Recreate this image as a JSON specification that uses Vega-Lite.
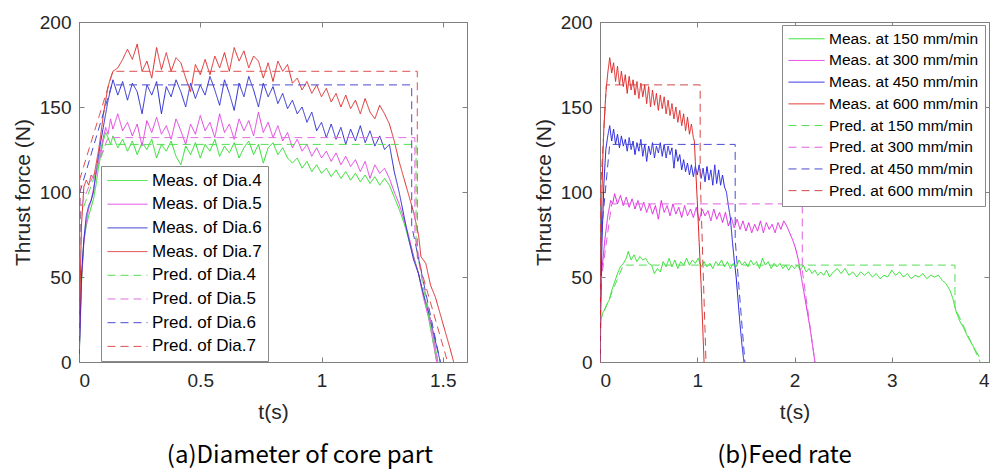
{
"$schema": "https://vega.github.io/schema/vega-lite/v6.json",
"padding": {"left": 11, "top": 12, "right": 1, "bottom": 0},
"spacing": 64,
"config": {
 "view": {"stroke": "#808080", "strokeWidth": 1},
 "axis": {"labelFont": "Liberation Sans", "titleFont": "Liberation Sans", "labelFontSize": 19, "titleFontSize": 21, "labelColor": "#262626", "titleColor": "#262626", "titleFontWeight": "normal", "grid": false, "domainColor": "#808080", "tickColor": "#808080", "tickSize": -5, "minExtent": 0},
 "line": {"strokeWidth": 1, "clip": true}
},
"resolve": {"scale": {"color": "independent", "strokeDash": "independent", "x": "independent", "y": "independent"}, "legend": {"color": "independent", "strokeDash": "independent"}},
"datasets": {
"a": [
{"s":"Meas. of Dia.4","t":0,"f":0},{"s":"Meas. of Dia.4","t":0.005,"f":20},{"s":"Meas. of Dia.4","t":0.01,"f":45},{"s":"Meas. of Dia.4","t":0.02,"f":72},{"s":"Meas. of Dia.4","t":0.03,"f":80},{"s":"Meas. of Dia.4","t":0.04,"f":86},{"s":"Meas. of Dia.4","t":0.05,"f":91},{"s":"Meas. of Dia.4","t":0.06,"f":96},{"s":"Meas. of Dia.4","t":0.07,"f":104},{"s":"Meas. of Dia.4","t":0.08,"f":114},{"s":"Meas. of Dia.4","t":0.09,"f":122},{"s":"Meas. of Dia.4","t":0.1,"f":130},{"s":"Meas. of Dia.4","t":0.11,"f":135},{"s":"Meas. of Dia.4","t":0.12,"f":132},{"s":"Meas. of Dia.4","t":0.13,"f":128},{"s":"Meas. of Dia.4","t":0.14,"f":133},{"s":"Meas. of Dia.4","t":0.16,"f":126},{"s":"Meas. of Dia.4","t":0.18,"f":131},{"s":"Meas. of Dia.4","t":0.2,"f":124},{"s":"Meas. of Dia.4","t":0.22,"f":130},{"s":"Meas. of Dia.4","t":0.24,"f":122},{"s":"Meas. of Dia.4","t":0.26,"f":129},{"s":"Meas. of Dia.4","t":0.28,"f":125},{"s":"Meas. of Dia.4","t":0.3,"f":131},{"s":"Meas. of Dia.4","t":0.32,"f":120},{"s":"Meas. of Dia.4","t":0.34,"f":128},{"s":"Meas. of Dia.4","t":0.36,"f":124},{"s":"Meas. of Dia.4","t":0.38,"f":130},{"s":"Meas. of Dia.4","t":0.4,"f":121},{"s":"Meas. of Dia.4","t":0.42,"f":116},{"s":"Meas. of Dia.4","t":0.44,"f":127},{"s":"Meas. of Dia.4","t":0.46,"f":122},{"s":"Meas. of Dia.4","t":0.48,"f":129},{"s":"Meas. of Dia.4","t":0.5,"f":120},{"s":"Meas. of Dia.4","t":0.52,"f":128},{"s":"Meas. of Dia.4","t":0.54,"f":124},{"s":"Meas. of Dia.4","t":0.56,"f":131},{"s":"Meas. of Dia.4","t":0.58,"f":121},{"s":"Meas. of Dia.4","t":0.6,"f":127},{"s":"Meas. of Dia.4","t":0.62,"f":123},{"s":"Meas. of Dia.4","t":0.64,"f":129},{"s":"Meas. of Dia.4","t":0.66,"f":120},{"s":"Meas. of Dia.4","t":0.68,"f":126},{"s":"Meas. of Dia.4","t":0.7,"f":130},{"s":"Meas. of Dia.4","t":0.72,"f":122},{"s":"Meas. of Dia.4","t":0.74,"f":128},{"s":"Meas. of Dia.4","t":0.76,"f":117},{"s":"Meas. of Dia.4","t":0.78,"f":126},{"s":"Meas. of Dia.4","t":0.8,"f":129},{"s":"Meas. of Dia.4","t":0.82,"f":122},{"s":"Meas. of Dia.4","t":0.84,"f":126},{"s":"Meas. of Dia.4","t":0.86,"f":120},{"s":"Meas. of Dia.4","t":0.88,"f":117},{"s":"Meas. of Dia.4","t":0.9,"f":120},{"s":"Meas. of Dia.4","t":0.92,"f":114},{"s":"Meas. of Dia.4","t":0.94,"f":118},{"s":"Meas. of Dia.4","t":0.96,"f":112},{"s":"Meas. of Dia.4","t":0.98,"f":116},{"s":"Meas. of Dia.4","t":1.0,"f":111},{"s":"Meas. of Dia.4","t":1.02,"f":114},{"s":"Meas. of Dia.4","t":1.04,"f":109},{"s":"Meas. of Dia.4","t":1.06,"f":113},{"s":"Meas. of Dia.4","t":1.08,"f":108},{"s":"Meas. of Dia.4","t":1.1,"f":112},{"s":"Meas. of Dia.4","t":1.12,"f":107},{"s":"Meas. of Dia.4","t":1.14,"f":111},{"s":"Meas. of Dia.4","t":1.16,"f":106},{"s":"Meas. of Dia.4","t":1.18,"f":110},{"s":"Meas. of Dia.4","t":1.2,"f":105},{"s":"Meas. of Dia.4","t":1.22,"f":109},{"s":"Meas. of Dia.4","t":1.24,"f":104},{"s":"Meas. of Dia.4","t":1.26,"f":108},{"s":"Meas. of Dia.4","t":1.28,"f":104},{"s":"Meas. of Dia.4","t":1.3,"f":97},{"s":"Meas. of Dia.4","t":1.32,"f":90},{"s":"Meas. of Dia.4","t":1.34,"f":82},{"s":"Meas. of Dia.4","t":1.36,"f":72},{"s":"Meas. of Dia.4","t":1.38,"f":62},{"s":"Meas. of Dia.4","t":1.4,"f":52},{"s":"Meas. of Dia.4","t":1.42,"f":40},{"s":"Meas. of Dia.4","t":1.44,"f":30},{"s":"Meas. of Dia.4","t":1.46,"f":16},{"s":"Meas. of Dia.4","t":1.48,"f":0},
{"s":"Meas. of Dia.5","t":0,"f":0},{"s":"Meas. of Dia.5","t":0.005,"f":22},{"s":"Meas. of Dia.5","t":0.01,"f":48},{"s":"Meas. of Dia.5","t":0.02,"f":70},{"s":"Meas. of Dia.5","t":0.03,"f":82},{"s":"Meas. of Dia.5","t":0.04,"f":90},{"s":"Meas. of Dia.5","t":0.05,"f":95},{"s":"Meas. of Dia.5","t":0.06,"f":102},{"s":"Meas. of Dia.5","t":0.07,"f":110},{"s":"Meas. of Dia.5","t":0.08,"f":118},{"s":"Meas. of Dia.5","t":0.09,"f":125},{"s":"Meas. of Dia.5","t":0.1,"f":132},{"s":"Meas. of Dia.5","t":0.11,"f":138},{"s":"Meas. of Dia.5","t":0.12,"f":134},{"s":"Meas. of Dia.5","t":0.13,"f":143},{"s":"Meas. of Dia.5","t":0.14,"f":137},{"s":"Meas. of Dia.5","t":0.16,"f":146},{"s":"Meas. of Dia.5","t":0.18,"f":136},{"s":"Meas. of Dia.5","t":0.2,"f":141},{"s":"Meas. of Dia.5","t":0.22,"f":133},{"s":"Meas. of Dia.5","t":0.24,"f":140},{"s":"Meas. of Dia.5","t":0.26,"f":127},{"s":"Meas. of Dia.5","t":0.28,"f":142},{"s":"Meas. of Dia.5","t":0.3,"f":135},{"s":"Meas. of Dia.5","t":0.32,"f":144},{"s":"Meas. of Dia.5","t":0.34,"f":134},{"s":"Meas. of Dia.5","t":0.36,"f":139},{"s":"Meas. of Dia.5","t":0.38,"f":131},{"s":"Meas. of Dia.5","t":0.4,"f":143},{"s":"Meas. of Dia.5","t":0.42,"f":136},{"s":"Meas. of Dia.5","t":0.44,"f":128},{"s":"Meas. of Dia.5","t":0.46,"f":140},{"s":"Meas. of Dia.5","t":0.48,"f":134},{"s":"Meas. of Dia.5","t":0.5,"f":145},{"s":"Meas. of Dia.5","t":0.52,"f":136},{"s":"Meas. of Dia.5","t":0.54,"f":141},{"s":"Meas. of Dia.5","t":0.56,"f":132},{"s":"Meas. of Dia.5","t":0.58,"f":146},{"s":"Meas. of Dia.5","t":0.6,"f":135},{"s":"Meas. of Dia.5","t":0.62,"f":140},{"s":"Meas. of Dia.5","t":0.64,"f":131},{"s":"Meas. of Dia.5","t":0.66,"f":143},{"s":"Meas. of Dia.5","t":0.68,"f":136},{"s":"Meas. of Dia.5","t":0.7,"f":142},{"s":"Meas. of Dia.5","t":0.72,"f":133},{"s":"Meas. of Dia.5","t":0.74,"f":147},{"s":"Meas. of Dia.5","t":0.76,"f":135},{"s":"Meas. of Dia.5","t":0.78,"f":141},{"s":"Meas. of Dia.5","t":0.8,"f":132},{"s":"Meas. of Dia.5","t":0.82,"f":139},{"s":"Meas. of Dia.5","t":0.84,"f":130},{"s":"Meas. of Dia.5","t":0.86,"f":135},{"s":"Meas. of Dia.5","t":0.88,"f":126},{"s":"Meas. of Dia.5","t":0.9,"f":131},{"s":"Meas. of Dia.5","t":0.92,"f":124},{"s":"Meas. of Dia.5","t":0.94,"f":128},{"s":"Meas. of Dia.5","t":0.96,"f":121},{"s":"Meas. of Dia.5","t":0.98,"f":126},{"s":"Meas. of Dia.5","t":1.0,"f":120},{"s":"Meas. of Dia.5","t":1.02,"f":124},{"s":"Meas. of Dia.5","t":1.04,"f":118},{"s":"Meas. of Dia.5","t":1.06,"f":123},{"s":"Meas. of Dia.5","t":1.08,"f":116},{"s":"Meas. of Dia.5","t":1.1,"f":121},{"s":"Meas. of Dia.5","t":1.12,"f":115},{"s":"Meas. of Dia.5","t":1.14,"f":119},{"s":"Meas. of Dia.5","t":1.16,"f":112},{"s":"Meas. of Dia.5","t":1.18,"f":118},{"s":"Meas. of Dia.5","t":1.2,"f":108},{"s":"Meas. of Dia.5","t":1.22,"f":116},{"s":"Meas. of Dia.5","t":1.24,"f":111},{"s":"Meas. of Dia.5","t":1.26,"f":114},{"s":"Meas. of Dia.5","t":1.28,"f":108},{"s":"Meas. of Dia.5","t":1.3,"f":100},{"s":"Meas. of Dia.5","t":1.32,"f":93},{"s":"Meas. of Dia.5","t":1.34,"f":84},{"s":"Meas. of Dia.5","t":1.36,"f":74},{"s":"Meas. of Dia.5","t":1.38,"f":62},{"s":"Meas. of Dia.5","t":1.4,"f":52},{"s":"Meas. of Dia.5","t":1.42,"f":38},{"s":"Meas. of Dia.5","t":1.44,"f":27},{"s":"Meas. of Dia.5","t":1.46,"f":12},{"s":"Meas. of Dia.5","t":1.475,"f":0},
{"s":"Meas. of Dia.6","t":0,"f":0},{"s":"Meas. of Dia.6","t":0.005,"f":25},{"s":"Meas. of Dia.6","t":0.01,"f":50},{"s":"Meas. of Dia.6","t":0.02,"f":72},{"s":"Meas. of Dia.6","t":0.03,"f":86},{"s":"Meas. of Dia.6","t":0.04,"f":92},{"s":"Meas. of Dia.6","t":0.05,"f":95},{"s":"Meas. of Dia.6","t":0.06,"f":100},{"s":"Meas. of Dia.6","t":0.07,"f":112},{"s":"Meas. of Dia.6","t":0.08,"f":121},{"s":"Meas. of Dia.6","t":0.09,"f":130},{"s":"Meas. of Dia.6","t":0.1,"f":138},{"s":"Meas. of Dia.6","t":0.11,"f":146},{"s":"Meas. of Dia.6","t":0.12,"f":154},{"s":"Meas. of Dia.6","t":0.13,"f":160},{"s":"Meas. of Dia.6","t":0.14,"f":166},{"s":"Meas. of Dia.6","t":0.16,"f":157},{"s":"Meas. of Dia.6","t":0.18,"f":165},{"s":"Meas. of Dia.6","t":0.2,"f":154},{"s":"Meas. of Dia.6","t":0.22,"f":164},{"s":"Meas. of Dia.6","t":0.24,"f":159},{"s":"Meas. of Dia.6","t":0.26,"f":146},{"s":"Meas. of Dia.6","t":0.28,"f":163},{"s":"Meas. of Dia.6","t":0.3,"f":157},{"s":"Meas. of Dia.6","t":0.32,"f":165},{"s":"Meas. of Dia.6","t":0.34,"f":146},{"s":"Meas. of Dia.6","t":0.36,"f":162},{"s":"Meas. of Dia.6","t":0.38,"f":156},{"s":"Meas. of Dia.6","t":0.4,"f":166},{"s":"Meas. of Dia.6","t":0.42,"f":159},{"s":"Meas. of Dia.6","t":0.44,"f":150},{"s":"Meas. of Dia.6","t":0.46,"f":164},{"s":"Meas. of Dia.6","t":0.48,"f":155},{"s":"Meas. of Dia.6","t":0.5,"f":163},{"s":"Meas. of Dia.6","t":0.52,"f":157},{"s":"Meas. of Dia.6","t":0.54,"f":168},{"s":"Meas. of Dia.6","t":0.56,"f":160},{"s":"Meas. of Dia.6","t":0.58,"f":151},{"s":"Meas. of Dia.6","t":0.6,"f":166},{"s":"Meas. of Dia.6","t":0.62,"f":158},{"s":"Meas. of Dia.6","t":0.64,"f":148},{"s":"Meas. of Dia.6","t":0.66,"f":164},{"s":"Meas. of Dia.6","t":0.68,"f":156},{"s":"Meas. of Dia.6","t":0.7,"f":168},{"s":"Meas. of Dia.6","t":0.72,"f":160},{"s":"Meas. of Dia.6","t":0.74,"f":150},{"s":"Meas. of Dia.6","t":0.76,"f":164},{"s":"Meas. of Dia.6","t":0.78,"f":156},{"s":"Meas. of Dia.6","t":0.8,"f":162},{"s":"Meas. of Dia.6","t":0.82,"f":152},{"s":"Meas. of Dia.6","t":0.84,"f":158},{"s":"Meas. of Dia.6","t":0.86,"f":149},{"s":"Meas. of Dia.6","t":0.88,"f":154},{"s":"Meas. of Dia.6","t":0.9,"f":146},{"s":"Meas. of Dia.6","t":0.92,"f":150},{"s":"Meas. of Dia.6","t":0.94,"f":141},{"s":"Meas. of Dia.6","t":0.96,"f":147},{"s":"Meas. of Dia.6","t":0.98,"f":136},{"s":"Meas. of Dia.6","t":1.0,"f":141},{"s":"Meas. of Dia.6","t":1.02,"f":132},{"s":"Meas. of Dia.6","t":1.04,"f":140},{"s":"Meas. of Dia.6","t":1.06,"f":131},{"s":"Meas. of Dia.6","t":1.08,"f":138},{"s":"Meas. of Dia.6","t":1.1,"f":128},{"s":"Meas. of Dia.6","t":1.12,"f":137},{"s":"Meas. of Dia.6","t":1.14,"f":130},{"s":"Meas. of Dia.6","t":1.16,"f":139},{"s":"Meas. of Dia.6","t":1.18,"f":129},{"s":"Meas. of Dia.6","t":1.2,"f":136},{"s":"Meas. of Dia.6","t":1.22,"f":127},{"s":"Meas. of Dia.6","t":1.24,"f":133},{"s":"Meas. of Dia.6","t":1.26,"f":125},{"s":"Meas. of Dia.6","t":1.28,"f":128},{"s":"Meas. of Dia.6","t":1.3,"f":112},{"s":"Meas. of Dia.6","t":1.32,"f":100},{"s":"Meas. of Dia.6","t":1.34,"f":86},{"s":"Meas. of Dia.6","t":1.36,"f":72},{"s":"Meas. of Dia.6","t":1.38,"f":60},{"s":"Meas. of Dia.6","t":1.4,"f":52},{"s":"Meas. of Dia.6","t":1.42,"f":40},{"s":"Meas. of Dia.6","t":1.44,"f":30},{"s":"Meas. of Dia.6","t":1.46,"f":18},{"s":"Meas. of Dia.6","t":1.48,"f":6},{"s":"Meas. of Dia.6","t":1.49,"f":0},
{"s":"Meas. of Dia.7","t":0,"f":0},{"s":"Meas. of Dia.7","t":0.005,"f":45},{"s":"Meas. of Dia.7","t":0.01,"f":80},{"s":"Meas. of Dia.7","t":0.02,"f":103},{"s":"Meas. of Dia.7","t":0.03,"f":107},{"s":"Meas. of Dia.7","t":0.04,"f":104},{"s":"Meas. of Dia.7","t":0.05,"f":110},{"s":"Meas. of Dia.7","t":0.06,"f":108},{"s":"Meas. of Dia.7","t":0.07,"f":116},{"s":"Meas. of Dia.7","t":0.08,"f":124},{"s":"Meas. of Dia.7","t":0.09,"f":134},{"s":"Meas. of Dia.7","t":0.1,"f":145},{"s":"Meas. of Dia.7","t":0.11,"f":154},{"s":"Meas. of Dia.7","t":0.12,"f":162},{"s":"Meas. of Dia.7","t":0.13,"f":167},{"s":"Meas. of Dia.7","t":0.14,"f":171},{"s":"Meas. of Dia.7","t":0.16,"f":173},{"s":"Meas. of Dia.7","t":0.18,"f":178},{"s":"Meas. of Dia.7","t":0.2,"f":184},{"s":"Meas. of Dia.7","t":0.22,"f":178},{"s":"Meas. of Dia.7","t":0.24,"f":187},{"s":"Meas. of Dia.7","t":0.26,"f":171},{"s":"Meas. of Dia.7","t":0.28,"f":177},{"s":"Meas. of Dia.7","t":0.3,"f":167},{"s":"Meas. of Dia.7","t":0.32,"f":185},{"s":"Meas. of Dia.7","t":0.34,"f":172},{"s":"Meas. of Dia.7","t":0.36,"f":182},{"s":"Meas. of Dia.7","t":0.38,"f":171},{"s":"Meas. of Dia.7","t":0.4,"f":179},{"s":"Meas. of Dia.7","t":0.42,"f":176},{"s":"Meas. of Dia.7","t":0.44,"f":167},{"s":"Meas. of Dia.7","t":0.46,"f":159},{"s":"Meas. of Dia.7","t":0.48,"f":175},{"s":"Meas. of Dia.7","t":0.5,"f":169},{"s":"Meas. of Dia.7","t":0.52,"f":178},{"s":"Meas. of Dia.7","t":0.54,"f":169},{"s":"Meas. of Dia.7","t":0.56,"f":180},{"s":"Meas. of Dia.7","t":0.58,"f":173},{"s":"Meas. of Dia.7","t":0.6,"f":182},{"s":"Meas. of Dia.7","t":0.62,"f":171},{"s":"Meas. of Dia.7","t":0.64,"f":185},{"s":"Meas. of Dia.7","t":0.66,"f":177},{"s":"Meas. of Dia.7","t":0.68,"f":183},{"s":"Meas. of Dia.7","t":0.7,"f":173},{"s":"Meas. of Dia.7","t":0.72,"f":180},{"s":"Meas. of Dia.7","t":0.74,"f":177},{"s":"Meas. of Dia.7","t":0.76,"f":167},{"s":"Meas. of Dia.7","t":0.78,"f":176},{"s":"Meas. of Dia.7","t":0.8,"f":165},{"s":"Meas. of Dia.7","t":0.82,"f":177},{"s":"Meas. of Dia.7","t":0.84,"f":171},{"s":"Meas. of Dia.7","t":0.86,"f":175},{"s":"Meas. of Dia.7","t":0.88,"f":164},{"s":"Meas. of Dia.7","t":0.9,"f":167},{"s":"Meas. of Dia.7","t":0.92,"f":160},{"s":"Meas. of Dia.7","t":0.94,"f":165},{"s":"Meas. of Dia.7","t":0.96,"f":158},{"s":"Meas. of Dia.7","t":0.98,"f":163},{"s":"Meas. of Dia.7","t":1.0,"f":156},{"s":"Meas. of Dia.7","t":1.02,"f":161},{"s":"Meas. of Dia.7","t":1.04,"f":153},{"s":"Meas. of Dia.7","t":1.06,"f":158},{"s":"Meas. of Dia.7","t":1.08,"f":150},{"s":"Meas. of Dia.7","t":1.1,"f":157},{"s":"Meas. of Dia.7","t":1.12,"f":149},{"s":"Meas. of Dia.7","t":1.14,"f":154},{"s":"Meas. of Dia.7","t":1.16,"f":146},{"s":"Meas. of Dia.7","t":1.18,"f":155},{"s":"Meas. of Dia.7","t":1.2,"f":147},{"s":"Meas. of Dia.7","t":1.22,"f":143},{"s":"Meas. of Dia.7","t":1.24,"f":151},{"s":"Meas. of Dia.7","t":1.26,"f":146},{"s":"Meas. of Dia.7","t":1.28,"f":140},{"s":"Meas. of Dia.7","t":1.3,"f":130},{"s":"Meas. of Dia.7","t":1.32,"f":118},{"s":"Meas. of Dia.7","t":1.34,"f":108},{"s":"Meas. of Dia.7","t":1.36,"f":98},{"s":"Meas. of Dia.7","t":1.38,"f":88},{"s":"Meas. of Dia.7","t":1.4,"f":75},{"s":"Meas. of Dia.7","t":1.41,"f":62},{"s":"Meas. of Dia.7","t":1.43,"f":58},{"s":"Meas. of Dia.7","t":1.45,"f":45},{"s":"Meas. of Dia.7","t":1.47,"f":38},{"s":"Meas. of Dia.7","t":1.49,"f":28},{"s":"Meas. of Dia.7","t":1.51,"f":18},{"s":"Meas. of Dia.7","t":1.53,"f":8},{"s":"Meas. of Dia.7","t":1.545,"f":0},
{"s":"Pred. of Dia.4","t":0,"f":0},{"s":"Pred. of Dia.4","t":0.004,"f":85},{"s":"Pred. of Dia.4","t":0.11,"f":128},{"s":"Pred. of Dia.4","t":1.39,"f":128},{"s":"Pred. of Dia.4","t":1.39,"f":68},{"s":"Pred. of Dia.4","t":1.475,"f":0},
{"s":"Pred. of Dia.5","t":0,"f":0},{"s":"Pred. of Dia.5","t":0.004,"f":90},{"s":"Pred. of Dia.5","t":0.12,"f":132},{"s":"Pred. of Dia.5","t":1.385,"f":132},{"s":"Pred. of Dia.5","t":1.385,"f":75},{"s":"Pred. of Dia.5","t":1.48,"f":0},
{"s":"Pred. of Dia.6","t":0,"f":0},{"s":"Pred. of Dia.6","t":0.004,"f":100},{"s":"Pred. of Dia.6","t":0.135,"f":163},{"s":"Pred. of Dia.6","t":1.372,"f":163},{"s":"Pred. of Dia.6","t":1.372,"f":80},{"s":"Pred. of Dia.6","t":1.49,"f":0},
{"s":"Pred. of Dia.7","t":0,"f":0},{"s":"Pred. of Dia.7","t":0.004,"f":108},{"s":"Pred. of Dia.7","t":0.14,"f":171},{"s":"Pred. of Dia.7","t":1.395,"f":171},{"s":"Pred. of Dia.7","t":1.395,"f":62},{"s":"Pred. of Dia.7","t":1.52,"f":0}
],
"b": [
{"s":"Meas. at 150 mm/min","t":0,"f":0},{"s":"Meas. at 150 mm/min","t":0.01,"f":25},{"s":"Meas. at 150 mm/min","t":0.03,"f":29},{"s":"Meas. at 150 mm/min","t":0.05,"f":31},{"s":"Meas. at 150 mm/min","t":0.08,"f":35},{"s":"Meas. at 150 mm/min","t":0.1,"f":37},{"s":"Meas. at 150 mm/min","t":0.12,"f":42},{"s":"Meas. at 150 mm/min","t":0.15,"f":47},{"s":"Meas. at 150 mm/min","t":0.18,"f":52},{"s":"Meas. at 150 mm/min","t":0.21,"f":56},{"s":"Meas. at 150 mm/min","t":0.24,"f":58},{"s":"Meas. at 150 mm/min","t":0.27,"f":61},{"s":"Meas. at 150 mm/min","t":0.29,"f":65},{"s":"Meas. at 150 mm/min","t":0.32,"f":60},{"s":"Meas. at 150 mm/min","t":0.35,"f":63},{"s":"Meas. at 150 mm/min","t":0.38,"f":59},{"s":"Meas. at 150 mm/min","t":0.41,"f":62},{"s":"Meas. at 150 mm/min","t":0.44,"f":60},{"s":"Meas. at 150 mm/min","t":0.47,"f":61},{"s":"Meas. at 150 mm/min","t":0.5,"f":58},{"s":"Meas. at 150 mm/min","t":0.53,"f":57},{"s":"Meas. at 150 mm/min","t":0.56,"f":52},{"s":"Meas. at 150 mm/min","t":0.59,"f":55},{"s":"Meas. at 150 mm/min","t":0.62,"f":53},{"s":"Meas. at 150 mm/min","t":0.65,"f":59},{"s":"Meas. at 150 mm/min","t":0.68,"f":56},{"s":"Meas. at 150 mm/min","t":0.71,"f":61},{"s":"Meas. at 150 mm/min","t":0.74,"f":56},{"s":"Meas. at 150 mm/min","t":0.77,"f":60},{"s":"Meas. at 150 mm/min","t":0.8,"f":55},{"s":"Meas. at 150 mm/min","t":0.83,"f":59},{"s":"Meas. at 150 mm/min","t":0.86,"f":57},{"s":"Meas. at 150 mm/min","t":0.89,"f":61},{"s":"Meas. at 150 mm/min","t":0.92,"f":57},{"s":"Meas. at 150 mm/min","t":0.95,"f":60},{"s":"Meas. at 150 mm/min","t":0.98,"f":58},{"s":"Meas. at 150 mm/min","t":1.01,"f":61},{"s":"Meas. at 150 mm/min","t":1.04,"f":56},{"s":"Meas. at 150 mm/min","t":1.07,"f":59},{"s":"Meas. at 150 mm/min","t":1.1,"f":56},{"s":"Meas. at 150 mm/min","t":1.13,"f":58},{"s":"Meas. at 150 mm/min","t":1.16,"f":55},{"s":"Meas. at 150 mm/min","t":1.19,"f":59},{"s":"Meas. at 150 mm/min","t":1.22,"f":57},{"s":"Meas. at 150 mm/min","t":1.25,"f":60},{"s":"Meas. at 150 mm/min","t":1.28,"f":56},{"s":"Meas. at 150 mm/min","t":1.31,"f":59},{"s":"Meas. at 150 mm/min","t":1.34,"f":55},{"s":"Meas. at 150 mm/min","t":1.37,"f":58},{"s":"Meas. at 150 mm/min","t":1.4,"f":56},{"s":"Meas. at 150 mm/min","t":1.43,"f":60},{"s":"Meas. at 150 mm/min","t":1.46,"f":57},{"s":"Meas. at 150 mm/min","t":1.49,"f":59},{"s":"Meas. at 150 mm/min","t":1.52,"f":56},{"s":"Meas. at 150 mm/min","t":1.55,"f":60},{"s":"Meas. at 150 mm/min","t":1.58,"f":57},{"s":"Meas. at 150 mm/min","t":1.61,"f":59},{"s":"Meas. at 150 mm/min","t":1.64,"f":55},{"s":"Meas. at 150 mm/min","t":1.67,"f":61},{"s":"Meas. at 150 mm/min","t":1.7,"f":57},{"s":"Meas. at 150 mm/min","t":1.73,"f":59},{"s":"Meas. at 150 mm/min","t":1.76,"f":55},{"s":"Meas. at 150 mm/min","t":1.79,"f":58},{"s":"Meas. at 150 mm/min","t":1.82,"f":56},{"s":"Meas. at 150 mm/min","t":1.85,"f":58},{"s":"Meas. at 150 mm/min","t":1.88,"f":55},{"s":"Meas. at 150 mm/min","t":1.91,"f":57},{"s":"Meas. at 150 mm/min","t":1.94,"f":54},{"s":"Meas. at 150 mm/min","t":1.97,"f":57},{"s":"Meas. at 150 mm/min","t":2.0,"f":55},{"s":"Meas. at 150 mm/min","t":2.03,"f":57},{"s":"Meas. at 150 mm/min","t":2.06,"f":54},{"s":"Meas. at 150 mm/min","t":2.09,"f":57},{"s":"Meas. at 150 mm/min","t":2.12,"f":53},{"s":"Meas. at 150 mm/min","t":2.15,"f":55},{"s":"Meas. at 150 mm/min","t":2.18,"f":52},{"s":"Meas. at 150 mm/min","t":2.21,"f":54},{"s":"Meas. at 150 mm/min","t":2.24,"f":51},{"s":"Meas. at 150 mm/min","t":2.27,"f":53},{"s":"Meas. at 150 mm/min","t":2.3,"f":51},{"s":"Meas. at 150 mm/min","t":2.33,"f":54},{"s":"Meas. at 150 mm/min","t":2.36,"f":50},{"s":"Meas. at 150 mm/min","t":2.4,"f":53},{"s":"Meas. at 150 mm/min","t":2.44,"f":55},{"s":"Meas. at 150 mm/min","t":2.48,"f":52},{"s":"Meas. at 150 mm/min","t":2.52,"f":55},{"s":"Meas. at 150 mm/min","t":2.56,"f":51},{"s":"Meas. at 150 mm/min","t":2.6,"f":53},{"s":"Meas. at 150 mm/min","t":2.64,"f":50},{"s":"Meas. at 150 mm/min","t":2.68,"f":53},{"s":"Meas. at 150 mm/min","t":2.72,"f":51},{"s":"Meas. at 150 mm/min","t":2.76,"f":53},{"s":"Meas. at 150 mm/min","t":2.8,"f":50},{"s":"Meas. at 150 mm/min","t":2.84,"f":52},{"s":"Meas. at 150 mm/min","t":2.88,"f":49},{"s":"Meas. at 150 mm/min","t":2.92,"f":51},{"s":"Meas. at 150 mm/min","t":2.96,"f":50},{"s":"Meas. at 150 mm/min","t":3.0,"f":54},{"s":"Meas. at 150 mm/min","t":3.04,"f":51},{"s":"Meas. at 150 mm/min","t":3.08,"f":53},{"s":"Meas. at 150 mm/min","t":3.12,"f":50},{"s":"Meas. at 150 mm/min","t":3.16,"f":52},{"s":"Meas. at 150 mm/min","t":3.2,"f":49},{"s":"Meas. at 150 mm/min","t":3.24,"f":51},{"s":"Meas. at 150 mm/min","t":3.28,"f":50},{"s":"Meas. at 150 mm/min","t":3.32,"f":52},{"s":"Meas. at 150 mm/min","t":3.36,"f":49},{"s":"Meas. at 150 mm/min","t":3.4,"f":51},{"s":"Meas. at 150 mm/min","t":3.44,"f":50},{"s":"Meas. at 150 mm/min","t":3.48,"f":51},{"s":"Meas. at 150 mm/min","t":3.52,"f":48},{"s":"Meas. at 150 mm/min","t":3.56,"f":46},{"s":"Meas. at 150 mm/min","t":3.6,"f":42},{"s":"Meas. at 150 mm/min","t":3.63,"f":37},{"s":"Meas. at 150 mm/min","t":3.66,"f":30},{"s":"Meas. at 150 mm/min","t":3.7,"f":24},{"s":"Meas. at 150 mm/min","t":3.74,"f":20},{"s":"Meas. at 150 mm/min","t":3.78,"f":15},{"s":"Meas. at 150 mm/min","t":3.82,"f":11},{"s":"Meas. at 150 mm/min","t":3.86,"f":7},{"s":"Meas. at 150 mm/min","t":3.9,"f":3},
{"s":"Meas. at 300 mm/min","t":0,"f":0},{"s":"Meas. at 300 mm/min","t":0.005,"f":30},{"s":"Meas. at 300 mm/min","t":0.01,"f":50},{"s":"Meas. at 300 mm/min","t":0.03,"f":60},{"s":"Meas. at 300 mm/min","t":0.05,"f":72},{"s":"Meas. at 300 mm/min","t":0.08,"f":86},{"s":"Meas. at 300 mm/min","t":0.11,"f":95},{"s":"Meas. at 300 mm/min","t":0.13,"f":93},{"s":"Meas. at 300 mm/min","t":0.15,"f":99},{"s":"Meas. at 300 mm/min","t":0.18,"f":93},{"s":"Meas. at 300 mm/min","t":0.21,"f":98},{"s":"Meas. at 300 mm/min","t":0.24,"f":92},{"s":"Meas. at 300 mm/min","t":0.27,"f":97},{"s":"Meas. at 300 mm/min","t":0.3,"f":91},{"s":"Meas. at 300 mm/min","t":0.33,"f":96},{"s":"Meas. at 300 mm/min","t":0.36,"f":90},{"s":"Meas. at 300 mm/min","t":0.39,"f":95},{"s":"Meas. at 300 mm/min","t":0.42,"f":89},{"s":"Meas. at 300 mm/min","t":0.45,"f":94},{"s":"Meas. at 300 mm/min","t":0.48,"f":88},{"s":"Meas. at 300 mm/min","t":0.51,"f":93},{"s":"Meas. at 300 mm/min","t":0.54,"f":87},{"s":"Meas. at 300 mm/min","t":0.57,"f":92},{"s":"Meas. at 300 mm/min","t":0.6,"f":84},{"s":"Meas. at 300 mm/min","t":0.63,"f":95},{"s":"Meas. at 300 mm/min","t":0.66,"f":88},{"s":"Meas. at 300 mm/min","t":0.69,"f":92},{"s":"Meas. at 300 mm/min","t":0.72,"f":86},{"s":"Meas. at 300 mm/min","t":0.75,"f":93},{"s":"Meas. at 300 mm/min","t":0.78,"f":87},{"s":"Meas. at 300 mm/min","t":0.81,"f":91},{"s":"Meas. at 300 mm/min","t":0.84,"f":85},{"s":"Meas. at 300 mm/min","t":0.87,"f":92},{"s":"Meas. at 300 mm/min","t":0.9,"f":86},{"s":"Meas. at 300 mm/min","t":0.93,"f":90},{"s":"Meas. at 300 mm/min","t":0.96,"f":85},{"s":"Meas. at 300 mm/min","t":0.99,"f":91},{"s":"Meas. at 300 mm/min","t":1.02,"f":83},{"s":"Meas. at 300 mm/min","t":1.05,"f":90},{"s":"Meas. at 300 mm/min","t":1.08,"f":86},{"s":"Meas. at 300 mm/min","t":1.11,"f":89},{"s":"Meas. at 300 mm/min","t":1.14,"f":83},{"s":"Meas. at 300 mm/min","t":1.17,"f":90},{"s":"Meas. at 300 mm/min","t":1.2,"f":84},{"s":"Meas. at 300 mm/min","t":1.23,"f":88},{"s":"Meas. at 300 mm/min","t":1.26,"f":82},{"s":"Meas. at 300 mm/min","t":1.29,"f":88},{"s":"Meas. at 300 mm/min","t":1.32,"f":80},{"s":"Meas. at 300 mm/min","t":1.35,"f":85},{"s":"Meas. at 300 mm/min","t":1.38,"f":79},{"s":"Meas. at 300 mm/min","t":1.41,"f":84},{"s":"Meas. at 300 mm/min","t":1.44,"f":78},{"s":"Meas. at 300 mm/min","t":1.47,"f":83},{"s":"Meas. at 300 mm/min","t":1.5,"f":77},{"s":"Meas. at 300 mm/min","t":1.53,"f":82},{"s":"Meas. at 300 mm/min","t":1.56,"f":76},{"s":"Meas. at 300 mm/min","t":1.59,"f":81},{"s":"Meas. at 300 mm/min","t":1.62,"f":77},{"s":"Meas. at 300 mm/min","t":1.65,"f":83},{"s":"Meas. at 300 mm/min","t":1.68,"f":76},{"s":"Meas. at 300 mm/min","t":1.71,"f":82},{"s":"Meas. at 300 mm/min","t":1.74,"f":78},{"s":"Meas. at 300 mm/min","t":1.77,"f":81},{"s":"Meas. at 300 mm/min","t":1.8,"f":76},{"s":"Meas. at 300 mm/min","t":1.83,"f":82},{"s":"Meas. at 300 mm/min","t":1.86,"f":78},{"s":"Meas. at 300 mm/min","t":1.89,"f":83},{"s":"Meas. at 300 mm/min","t":1.92,"f":80},{"s":"Meas. at 300 mm/min","t":1.95,"f":76},{"s":"Meas. at 300 mm/min","t":1.98,"f":72},{"s":"Meas. at 300 mm/min","t":2.01,"f":67},{"s":"Meas. at 300 mm/min","t":2.04,"f":60},{"s":"Meas. at 300 mm/min","t":2.07,"f":50},{"s":"Meas. at 300 mm/min","t":2.1,"f":40},{"s":"Meas. at 300 mm/min","t":2.13,"f":30},{"s":"Meas. at 300 mm/min","t":2.16,"f":20},{"s":"Meas. at 300 mm/min","t":2.19,"f":8},{"s":"Meas. at 300 mm/min","t":2.21,"f":0},
{"s":"Meas. at 450 mm/min","t":0,"f":0},{"s":"Meas. at 450 mm/min","t":0.01,"f":40},{"s":"Meas. at 450 mm/min","t":0.02,"f":70},{"s":"Meas. at 450 mm/min","t":0.04,"f":105},{"s":"Meas. at 450 mm/min","t":0.06,"f":125},{"s":"Meas. at 450 mm/min","t":0.08,"f":133},{"s":"Meas. at 450 mm/min","t":0.1,"f":139},{"s":"Meas. at 450 mm/min","t":0.12,"f":130},{"s":"Meas. at 450 mm/min","t":0.14,"f":137},{"s":"Meas. at 450 mm/min","t":0.16,"f":128},{"s":"Meas. at 450 mm/min","t":0.18,"f":134},{"s":"Meas. at 450 mm/min","t":0.2,"f":126},{"s":"Meas. at 450 mm/min","t":0.22,"f":133},{"s":"Meas. at 450 mm/min","t":0.24,"f":127},{"s":"Meas. at 450 mm/min","t":0.26,"f":131},{"s":"Meas. at 450 mm/min","t":0.28,"f":124},{"s":"Meas. at 450 mm/min","t":0.3,"f":132},{"s":"Meas. at 450 mm/min","t":0.32,"f":125},{"s":"Meas. at 450 mm/min","t":0.34,"f":130},{"s":"Meas. at 450 mm/min","t":0.36,"f":122},{"s":"Meas. at 450 mm/min","t":0.38,"f":129},{"s":"Meas. at 450 mm/min","t":0.4,"f":124},{"s":"Meas. at 450 mm/min","t":0.42,"f":131},{"s":"Meas. at 450 mm/min","t":0.44,"f":121},{"s":"Meas. at 450 mm/min","t":0.46,"f":128},{"s":"Meas. at 450 mm/min","t":0.48,"f":118},{"s":"Meas. at 450 mm/min","t":0.5,"f":127},{"s":"Meas. at 450 mm/min","t":0.52,"f":122},{"s":"Meas. at 450 mm/min","t":0.54,"f":129},{"s":"Meas. at 450 mm/min","t":0.56,"f":120},{"s":"Meas. at 450 mm/min","t":0.58,"f":127},{"s":"Meas. at 450 mm/min","t":0.6,"f":123},{"s":"Meas. at 450 mm/min","t":0.62,"f":129},{"s":"Meas. at 450 mm/min","t":0.64,"f":121},{"s":"Meas. at 450 mm/min","t":0.66,"f":128},{"s":"Meas. at 450 mm/min","t":0.68,"f":120},{"s":"Meas. at 450 mm/min","t":0.7,"f":127},{"s":"Meas. at 450 mm/min","t":0.72,"f":122},{"s":"Meas. at 450 mm/min","t":0.74,"f":126},{"s":"Meas. at 450 mm/min","t":0.76,"f":114},{"s":"Meas. at 450 mm/min","t":0.78,"f":125},{"s":"Meas. at 450 mm/min","t":0.8,"f":118},{"s":"Meas. at 450 mm/min","t":0.82,"f":122},{"s":"Meas. at 450 mm/min","t":0.84,"f":113},{"s":"Meas. at 450 mm/min","t":0.86,"f":119},{"s":"Meas. at 450 mm/min","t":0.88,"f":112},{"s":"Meas. at 450 mm/min","t":0.9,"f":117},{"s":"Meas. at 450 mm/min","t":0.92,"f":110},{"s":"Meas. at 450 mm/min","t":0.94,"f":116},{"s":"Meas. at 450 mm/min","t":0.96,"f":109},{"s":"Meas. at 450 mm/min","t":0.98,"f":115},{"s":"Meas. at 450 mm/min","t":1.0,"f":110},{"s":"Meas. at 450 mm/min","t":1.02,"f":116},{"s":"Meas. at 450 mm/min","t":1.04,"f":108},{"s":"Meas. at 450 mm/min","t":1.06,"f":114},{"s":"Meas. at 450 mm/min","t":1.08,"f":106},{"s":"Meas. at 450 mm/min","t":1.1,"f":115},{"s":"Meas. at 450 mm/min","t":1.12,"f":107},{"s":"Meas. at 450 mm/min","t":1.14,"f":113},{"s":"Meas. at 450 mm/min","t":1.16,"f":104},{"s":"Meas. at 450 mm/min","t":1.18,"f":116},{"s":"Meas. at 450 mm/min","t":1.2,"f":105},{"s":"Meas. at 450 mm/min","t":1.22,"f":113},{"s":"Meas. at 450 mm/min","t":1.24,"f":104},{"s":"Meas. at 450 mm/min","t":1.26,"f":110},{"s":"Meas. at 450 mm/min","t":1.28,"f":103},{"s":"Meas. at 450 mm/min","t":1.3,"f":100},{"s":"Meas. at 450 mm/min","t":1.32,"f":92},{"s":"Meas. at 450 mm/min","t":1.34,"f":85},{"s":"Meas. at 450 mm/min","t":1.36,"f":72},{"s":"Meas. at 450 mm/min","t":1.38,"f":60},{"s":"Meas. at 450 mm/min","t":1.4,"f":50},{"s":"Meas. at 450 mm/min","t":1.42,"f":36},{"s":"Meas. at 450 mm/min","t":1.44,"f":22},{"s":"Meas. at 450 mm/min","t":1.46,"f":10},{"s":"Meas. at 450 mm/min","t":1.48,"f":0},
{"s":"Meas. at 600 mm/min","t":0,"f":0},{"s":"Meas. at 600 mm/min","t":0.01,"f":60},{"s":"Meas. at 600 mm/min","t":0.02,"f":100},{"s":"Meas. at 600 mm/min","t":0.03,"f":122},{"s":"Meas. at 600 mm/min","t":0.04,"f":138},{"s":"Meas. at 600 mm/min","t":0.06,"f":158},{"s":"Meas. at 600 mm/min","t":0.08,"f":170},{"s":"Meas. at 600 mm/min","t":0.1,"f":179},{"s":"Meas. at 600 mm/min","t":0.12,"f":170},{"s":"Meas. at 600 mm/min","t":0.14,"f":176},{"s":"Meas. at 600 mm/min","t":0.16,"f":165},{"s":"Meas. at 600 mm/min","t":0.18,"f":174},{"s":"Meas. at 600 mm/min","t":0.2,"f":163},{"s":"Meas. at 600 mm/min","t":0.22,"f":171},{"s":"Meas. at 600 mm/min","t":0.24,"f":162},{"s":"Meas. at 600 mm/min","t":0.26,"f":169},{"s":"Meas. at 600 mm/min","t":0.28,"f":158},{"s":"Meas. at 600 mm/min","t":0.3,"f":168},{"s":"Meas. at 600 mm/min","t":0.32,"f":160},{"s":"Meas. at 600 mm/min","t":0.34,"f":166},{"s":"Meas. at 600 mm/min","t":0.36,"f":157},{"s":"Meas. at 600 mm/min","t":0.38,"f":165},{"s":"Meas. at 600 mm/min","t":0.4,"f":155},{"s":"Meas. at 600 mm/min","t":0.42,"f":164},{"s":"Meas. at 600 mm/min","t":0.44,"f":156},{"s":"Meas. at 600 mm/min","t":0.46,"f":163},{"s":"Meas. at 600 mm/min","t":0.48,"f":152},{"s":"Meas. at 600 mm/min","t":0.5,"f":162},{"s":"Meas. at 600 mm/min","t":0.52,"f":150},{"s":"Meas. at 600 mm/min","t":0.54,"f":160},{"s":"Meas. at 600 mm/min","t":0.56,"f":151},{"s":"Meas. at 600 mm/min","t":0.58,"f":158},{"s":"Meas. at 600 mm/min","t":0.6,"f":148},{"s":"Meas. at 600 mm/min","t":0.62,"f":157},{"s":"Meas. at 600 mm/min","t":0.64,"f":149},{"s":"Meas. at 600 mm/min","t":0.66,"f":156},{"s":"Meas. at 600 mm/min","t":0.68,"f":146},{"s":"Meas. at 600 mm/min","t":0.7,"f":154},{"s":"Meas. at 600 mm/min","t":0.72,"f":145},{"s":"Meas. at 600 mm/min","t":0.74,"f":152},{"s":"Meas. at 600 mm/min","t":0.76,"f":143},{"s":"Meas. at 600 mm/min","t":0.78,"f":150},{"s":"Meas. at 600 mm/min","t":0.8,"f":141},{"s":"Meas. at 600 mm/min","t":0.82,"f":148},{"s":"Meas. at 600 mm/min","t":0.84,"f":139},{"s":"Meas. at 600 mm/min","t":0.86,"f":146},{"s":"Meas. at 600 mm/min","t":0.88,"f":136},{"s":"Meas. at 600 mm/min","t":0.9,"f":144},{"s":"Meas. at 600 mm/min","t":0.92,"f":134},{"s":"Meas. at 600 mm/min","t":0.94,"f":140},{"s":"Meas. at 600 mm/min","t":0.96,"f":132},{"s":"Meas. at 600 mm/min","t":0.97,"f":130},{"s":"Meas. at 600 mm/min","t":0.98,"f":118},{"s":"Meas. at 600 mm/min","t":1.0,"f":95},{"s":"Meas. at 600 mm/min","t":1.02,"f":70},{"s":"Meas. at 600 mm/min","t":1.04,"f":45},{"s":"Meas. at 600 mm/min","t":1.06,"f":15},{"s":"Meas. at 600 mm/min","t":1.07,"f":0},
{"s":"Pred. at 150 mm/min","t":0,"f":0},{"s":"Pred. at 150 mm/min","t":0.005,"f":25},{"s":"Pred. at 150 mm/min","t":0.24,"f":57},{"s":"Pred. at 150 mm/min","t":3.65,"f":57},{"s":"Pred. at 150 mm/min","t":3.65,"f":32},{"s":"Pred. at 150 mm/min","t":3.91,"f":0},
{"s":"Pred. at 300 mm/min","t":0,"f":0},{"s":"Pred. at 300 mm/min","t":0.005,"f":45},{"s":"Pred. at 300 mm/min","t":0.12,"f":93},{"s":"Pred. at 300 mm/min","t":2.08,"f":93},{"s":"Pred. at 300 mm/min","t":2.08,"f":54},{"s":"Pred. at 300 mm/min","t":2.21,"f":0},
{"s":"Pred. at 450 mm/min","t":0,"f":0},{"s":"Pred. at 450 mm/min","t":0.005,"f":70},{"s":"Pred. at 450 mm/min","t":0.1,"f":128},{"s":"Pred. at 450 mm/min","t":1.39,"f":128},{"s":"Pred. at 450 mm/min","t":1.39,"f":72},{"s":"Pred. at 450 mm/min","t":1.49,"f":0},
{"s":"Pred. at 600 mm/min","t":0,"f":0},{"s":"Pred. at 600 mm/min","t":0.005,"f":100},{"s":"Pred. at 600 mm/min","t":0.065,"f":163},{"s":"Pred. at 600 mm/min","t":1.03,"f":163},{"s":"Pred. at 600 mm/min","t":1.03,"f":110},{"s":"Pred. at 600 mm/min","t":1.09,"f":0}
]
},
"hconcat": [
{
 "width": 388, "height": 340,
 "title": {"text": "(a)Diameter of core part", "orient": "bottom", "anchor": "middle", "dx": 27, "offset": 22, "fontSize": 24, "font": "Noto Sans CJK KR", "fontWeight": "normal", "color": "#000000"},
 "data": {"name": "a"},
 "resolve": {"axis": {"x": "independent", "y": "independent"}},
 "layer": [
  {
   "transform": [{"filter": "indexof(datum.s, 'Meas') == 0"}],
   "mark": {"type": "line", "strokeWidth": 1, "clip": true},
   "encoding": {
    "x": {"field": "t", "type": "quantitative", "scale": {"domain": [0, 1.6], "nice": false, "zero": false}, "axis": {"orient": "bottom", "values": [0, 0.5, 1, 1.5], "format": "~g", "title": "t(s)", "labelPadding": 14, "titlePadding": 11}},
    "y": {"field": "f", "type": "quantitative", "scale": {"domain": [0, 200], "nice": false}, "axis": {"orient": "left", "values": [0, 50, 100, 150, 200], "title": "Thrust force (N)", "labelPadding": 13, "titlePadding": 6}},
    "color": {"field": "s", "type": "nominal", "scale": {"domain": ["Meas. of Dia.4", "Meas. of Dia.5", "Meas. of Dia.6", "Meas. of Dia.7", "Pred. of Dia.4", "Pred. of Dia.5", "Pred. of Dia.6", "Pred. of Dia.7"], "range": ["#22dd22", "#e040e0", "#2a2ad0", "#dd2a2a", "#55dd55", "#e070e0", "#4a4ad0", "#e05050"]}, "legend": {"title": null, "orient": "none", "legendX": 22, "legendY": 144, "symbolType": "stroke", "symbolSize": 1600, "symbolStrokeWidth": 1, "labelFontSize": 17, "labelFont": "Liberation Sans", "labelColor": "#000000", "rowPadding": 5.7, "padding": 6, "strokeColor": "#888888", "fillColor": "#ffffff", "labelOffset": 4, "clipHeight": 17}},
    "strokeDash": {"field": "s", "type": "nominal", "scale": {"domain": ["Meas. of Dia.4", "Meas. of Dia.5", "Meas. of Dia.6", "Meas. of Dia.7", "Pred. of Dia.4", "Pred. of Dia.5", "Pred. of Dia.6", "Pred. of Dia.7"], "range": [[1, 0], [1, 0], [1, 0], [1, 0], [8, 5], [8, 5], [8, 5], [8, 5]]}, "legend": {"title": null, "orient": "none", "legendX": 22, "legendY": 144, "symbolType": "stroke", "symbolSize": 1600, "symbolStrokeWidth": 1, "labelFontSize": 17, "labelFont": "Liberation Sans", "labelColor": "#000000", "rowPadding": 5.7, "padding": 6, "strokeColor": "#888888", "fillColor": "#ffffff", "labelOffset": 4, "clipHeight": 17}},
    "order": {"value": null}
   }
  },
  {
   "transform": [{"filter": "indexof(datum.s, 'Pred') == 0"}],
   "mark": {"type": "line", "strokeWidth": 1, "clip": true},
   "encoding": {
    "x": {"field": "t", "type": "quantitative", "scale": {"domain": [0, 1.6], "nice": false, "zero": false}, "axis": {"orient": "top", "values": [0, 0.5, 1, 1.5], "labels": false, "title": null}},
    "y": {"field": "f", "type": "quantitative", "scale": {"domain": [0, 200], "nice": false}, "axis": {"orient": "right", "values": [0, 50, 100, 150, 200], "labels": false, "title": null}},
    "color": {"field": "s", "type": "nominal"},
    "strokeDash": {"field": "s", "type": "nominal"},
    "order": {"value": null}
   }
  }
 ]
},
{
 "width": 389, "height": 340,
 "title": {"text": "(b)Feed rate", "orient": "bottom", "anchor": "middle", "dx": -10, "offset": 22, "fontSize": 24, "font": "Noto Sans CJK KR", "fontWeight": "normal", "color": "#000000"},
 "data": {"name": "b"},
 "resolve": {"axis": {"x": "independent", "y": "independent"}},
 "layer": [
  {
   "transform": [{"filter": "indexof(datum.s, 'Meas') == 0"}],
   "mark": {"type": "line", "strokeWidth": 1, "clip": true},
   "encoding": {
    "x": {"field": "t", "type": "quantitative", "scale": {"domain": [0, 4], "nice": false}, "axis": {"orient": "bottom", "values": [0, 1, 2, 3, 4], "format": "~g", "title": "t(s)", "labelPadding": 14, "titlePadding": 11}},
    "y": {"field": "f", "type": "quantitative", "scale": {"domain": [0, 200], "nice": false}, "axis": {"orient": "left", "values": [0, 50, 100, 150, 200], "title": "Thrust force (N)", "labelPadding": 13, "titlePadding": 6}},
    "color": {"field": "s", "type": "nominal", "scale": {"domain": ["Meas. at 150 mm/min", "Meas. at 300 mm/min", "Meas. at 450 mm/min", "Meas. at 600 mm/min", "Pred. at 150 mm/min", "Pred. at 300 mm/min", "Pred. at 450 mm/min", "Pred. at 600 mm/min"], "range": ["#22e022", "#e020e0", "#2020e0", "#e02020", "#55dd55", "#e060e0", "#4a4ad0", "#d04848"]}, "legend": {"title": null, "orient": "none", "legendX": 182, "legendY": 3, "symbolType": "stroke", "symbolSize": 1296, "symbolStrokeWidth": 1, "labelFontSize": 15.5, "labelFont": "Liberation Sans", "labelColor": "#000000", "rowPadding": 4.7, "padding": 6, "strokeColor": "#888888", "fillColor": "#ffffff", "labelOffset": 4, "clipHeight": 15.5}},
    "strokeDash": {"field": "s", "type": "nominal", "scale": {"domain": ["Meas. at 150 mm/min", "Meas. at 300 mm/min", "Meas. at 450 mm/min", "Meas. at 600 mm/min", "Pred. at 150 mm/min", "Pred. at 300 mm/min", "Pred. at 450 mm/min", "Pred. at 600 mm/min"], "range": [[1, 0], [1, 0], [1, 0], [1, 0], [8, 5], [8, 5], [8, 5], [8, 5]]}, "legend": {"title": null, "orient": "none", "legendX": 182, "legendY": 3, "symbolType": "stroke", "symbolSize": 1296, "symbolStrokeWidth": 1, "labelFontSize": 15.5, "labelFont": "Liberation Sans", "labelColor": "#000000", "rowPadding": 4.7, "padding": 6, "strokeColor": "#888888", "fillColor": "#ffffff", "labelOffset": 4, "clipHeight": 15.5}},
    "order": {"value": null}
   }
  },
  {
   "transform": [{"filter": "indexof(datum.s, 'Pred') == 0"}],
   "mark": {"type": "line", "strokeWidth": 1, "clip": true},
   "encoding": {
    "x": {"field": "t", "type": "quantitative", "scale": {"domain": [0, 4], "nice": false}, "axis": {"orient": "top", "values": [0, 1, 2, 3, 4], "labels": false, "title": null}},
    "y": {"field": "f", "type": "quantitative", "scale": {"domain": [0, 200], "nice": false}, "axis": {"orient": "right", "values": [0, 50, 100, 150, 200], "labels": false, "title": null}},
    "color": {"field": "s", "type": "nominal"},
    "strokeDash": {"field": "s", "type": "nominal"},
    "order": {"value": null}
   }
  }
 ]
}
]
}
